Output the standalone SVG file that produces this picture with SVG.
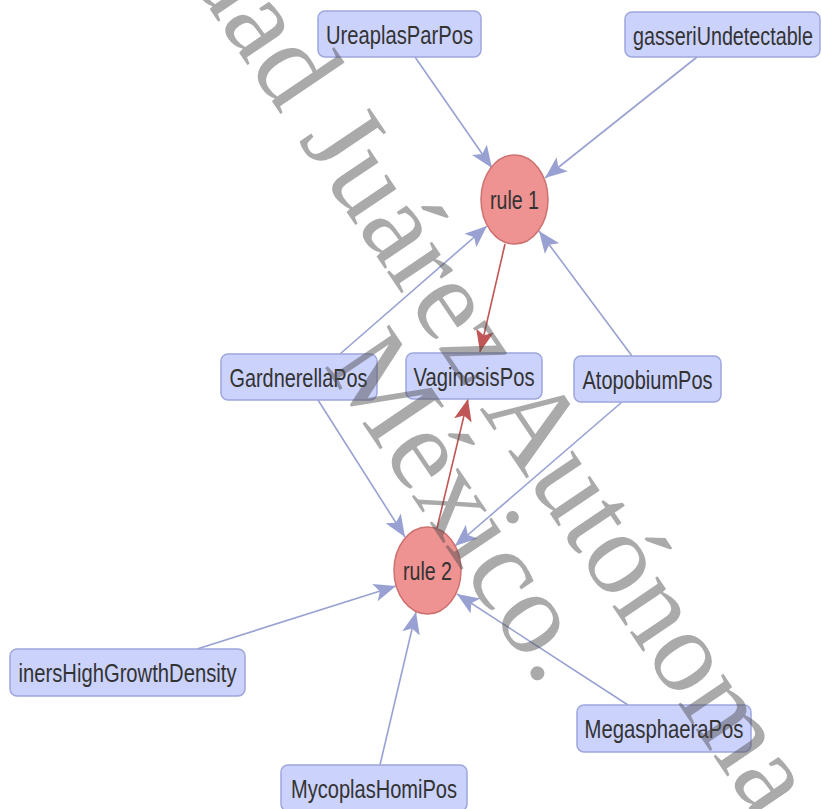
<svg xmlns="http://www.w3.org/2000/svg" width="822" height="809" viewBox="0 0 822 809">
  <style>
    .box { fill: #cbd2fc; stroke: #9ea7dc; stroke-width: 1.5; }
    .rule { fill: #ee9292; stroke: #cd7070; stroke-width: 1.5; }
    .lbl { font-family: "Liberation Sans Narrow", "Liberation Sans", Arial, sans-serif; font-size: 26px; fill: #333333; text-anchor: middle; }
    .e { fill: none; stroke: #98a1d2; stroke-width: 1.6; }
    .er { fill: none; stroke: #c05656; stroke-width: 1.6; }
    .wm { font-family: "Liberation Serif", "Times New Roman", serif; font-size: 118px; fill: #4d4d4d; fill-opacity: 0.48; }
  </style>
  <defs>
    <marker id="ab" markerUnits="userSpaceOnUse" markerWidth="24" markerHeight="20" refX="22" refY="10" orient="auto">
      <path d="M0,1 L22,10 L0,19 L5,10 Z" fill="#98a1d2"/>
    </marker>
    <marker id="ar" markerUnits="userSpaceOnUse" markerWidth="24" markerHeight="20" refX="22" refY="10" orient="auto">
      <path d="M0,1 L22,10 L0,19 L5,10 Z" fill="#c05656"/>
    </marker>
  </defs>
  <rect width="822" height="809" fill="#ffffff"/>

  <g id="edges">
    <line class="e" x1="415" y1="57" x2="492" y2="168" marker-end="url(#ab)"/>
    <line class="e" x1="697" y1="57" x2="545" y2="178" marker-end="url(#ab)"/>
    <line class="e" x1="340" y1="354" x2="487" y2="226" marker-end="url(#ab)"/>
    <line class="e" x1="632" y1="356" x2="539" y2="231" marker-end="url(#ab)"/>
    <line class="er" x1="505" y1="244" x2="480" y2="352" marker-end="url(#ar)"/>
    <line class="er" x1="437" y1="528" x2="468" y2="399" marker-end="url(#ar)"/>
    <line class="e" x1="318" y1="400" x2="405" y2="537" marker-end="url(#ab)"/>
    <line class="e" x1="622" y1="402" x2="455" y2="546" marker-end="url(#ab)"/>
    <line class="e" x1="197" y1="649" x2="396" y2="586" marker-end="url(#ab)"/>
    <line class="e" x1="380" y1="765" x2="416" y2="612" marker-end="url(#ab)"/>
    <line class="e" x1="628" y1="705" x2="457" y2="594" marker-end="url(#ab)"/>
  </g>

  <g id="UreaplasParPos">
    <rect class="box" x="318" y="11" width="163" height="46" rx="7"/>
    <text class="lbl" x="399.5" y="44" textLength="147" lengthAdjust="spacingAndGlyphs">UreaplasParPos</text>
  </g>
  <g id="gasseriUndetectable">
    <rect class="box" x="625" y="12" width="195" height="45" rx="7"/>
    <text class="lbl" x="723" y="45" textLength="180" lengthAdjust="spacingAndGlyphs">gasseriUndetectable</text>
  </g>
  <g id="rule1">
    <ellipse class="rule" cx="514.5" cy="199.5" rx="33.5" ry="44.5"/>
    <text class="lbl" x="514.5" y="209" textLength="49" lengthAdjust="spacingAndGlyphs">rule 1</text>
  </g>
  <g id="GardnerellaPos">
    <rect class="box" x="221" y="354" width="156" height="46" rx="7"/>
    <text class="lbl" x="298.5" y="387" textLength="138" lengthAdjust="spacingAndGlyphs">GardnerellaPos</text>
  </g>
  <g id="VaginosisPos">
    <rect class="box" x="406" y="353" width="136" height="46" rx="7"/>
    <text class="lbl" x="474" y="386" textLength="121" lengthAdjust="spacingAndGlyphs">VaginosisPos</text>
  </g>
  <g id="AtopobiumPos">
    <rect class="box" x="574" y="356" width="147" height="46" rx="7"/>
    <text class="lbl" x="647.5" y="389" textLength="130" lengthAdjust="spacingAndGlyphs">AtopobiumPos</text>
  </g>
  <g id="rule2">
    <ellipse class="rule" cx="427.5" cy="570.5" rx="33.5" ry="43.5"/>
    <text class="lbl" x="427.5" y="580" textLength="49" lengthAdjust="spacingAndGlyphs">rule 2</text>
  </g>
  <g id="inersHighGrowthDensity">
    <rect class="box" x="10" y="649" width="235" height="47" rx="7"/>
    <text class="lbl" x="127.5" y="682" textLength="218" lengthAdjust="spacingAndGlyphs">inersHighGrowthDensity</text>
  </g>
  <g id="MegasphaeraPos">
    <rect class="box" x="577" y="705" width="174" height="47" rx="7"/>
    <text class="lbl" x="664" y="738" textLength="159" lengthAdjust="spacingAndGlyphs">MegasphaeraPos</text>
  </g>
  <g id="MycoplasHomiPos">
    <rect class="box" x="281" y="765" width="186" height="46" rx="7"/>
    <text class="lbl" x="374" y="798" textLength="166" lengthAdjust="spacingAndGlyphs">MycoplasHomiPos</text>
  </g>

  <!-- diagonal watermark laid over the graph -->
  <g id="watermark" transform="translate(186,-26) rotate(56)">
    <text class="wm" x="0" y="0">dad Juárez Autónoma</text>
    <text class="wm" x="401" y="105">México.</text>
  </g>
</svg>
